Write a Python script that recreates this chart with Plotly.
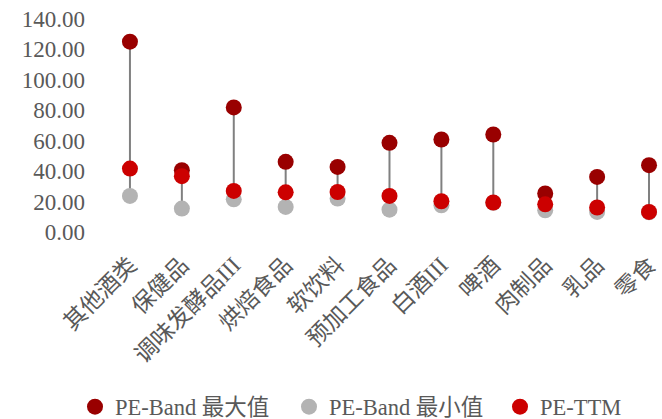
import plotly.graph_objects as go

# Food & beverage sub-sectors and their PE statistics
categories = ["其他酒类", "保健品", "调味发酵品III", "烘焙食品", "软饮料",
              "预加工食品", "白酒III", "啤酒", "肉制品", "乳品", "零食"]
pe_band_max = [125.1, 40.6, 81.9, 46.1, 42.8, 58.6, 60.8, 64.1, 25.3, 36.2, 43.9]
pe_band_min = [23.7, 15.4, 21.5, 16.5, 22.0, 14.7, 17.6, 19.2, 14.3, 13.2, 13.0]
pe_ttm = [41.7, 36.7, 27.0, 26.1, 26.3, 23.7, 20.2, 19.4, 18.2, 16.1, 13.2]

y_ticks = [0, 20, 40, 60, 80, 100, 120, 140]

FONT = "Liberation Serif, Noto Sans CJK SC, serif"
TEXT_COLOR = "#595959"
W, H = 662, 419

# vertical range segments from min to max for each category
seg_x, seg_y = [], []
for c, lo, hi in zip(categories, pe_band_min, pe_band_max):
    seg_x += [c, c, None]
    seg_y += [lo, hi, None]

fig = go.Figure()
fig.add_trace(go.Scatter(
    x=seg_x, y=seg_y, mode="lines",
    line=dict(color="#808080", width=2),
    showlegend=False, hoverinfo="skip", cliponaxis=False,
))
fig.add_trace(go.Scatter(
    x=categories, y=pe_band_min, mode="markers", name="PE-Band 最小值",
    marker=dict(color="#B3B3B3", size=16), legend="legend2", cliponaxis=False,
))
fig.add_trace(go.Scatter(
    x=categories, y=pe_band_max, mode="markers", name="PE-Band 最大值",
    marker=dict(color="#990000", size=16), legend="legend", cliponaxis=False,
))
fig.add_trace(go.Scatter(
    x=categories, y=pe_ttm, mode="markers", name="PE-TTM",
    marker=dict(color="#CC0000", size=16), legend="legend3", cliponaxis=False,
))


def legend_box(left_px):
    # one single-entry legend per series, laid out in a row under the chart
    return dict(
        orientation="h", xref="container", yref="container",
        x=left_px / W, xanchor="left", y=1 - 407 / H, yanchor="middle",
        font=dict(family=FONT, size=22.5, color=TEXT_COLOR),
        itemwidth=30, bgcolor="rgba(0,0,0,0)",
    )


fig.update_layout(
    width=W, height=H,
    margin=dict(l=104, r=0, t=19, b=187, autoexpand=False),
    paper_bgcolor="white", plot_bgcolor="white",
    font=dict(family=FONT, size=22, color=TEXT_COLOR),
    xaxis=dict(
        type="category", range=[-0.5, 10.25], automargin=False,
        showgrid=False, zeroline=False, showline=False,
        tickangle=-45, ticks="", ticklabelstandoff=14,
        tickfont=dict(family=FONT, size=23, color=TEXT_COLOR),
    ),
    yaxis=dict(
        range=[0, 140], tickvals=y_ticks, automargin=False,
        ticktext=[f"{v:.2f}" for v in y_ticks],
        showgrid=False, zeroline=False, showline=False,
        ticks="", ticklabelstandoff=18,
        tickfont=dict(family=FONT, size=23, color=TEXT_COLOR),
    ),
    legend=legend_box(75),
    legend2=legend_box(289),
    legend3=legend_box(500),
)

fig.write_html("out.html")
